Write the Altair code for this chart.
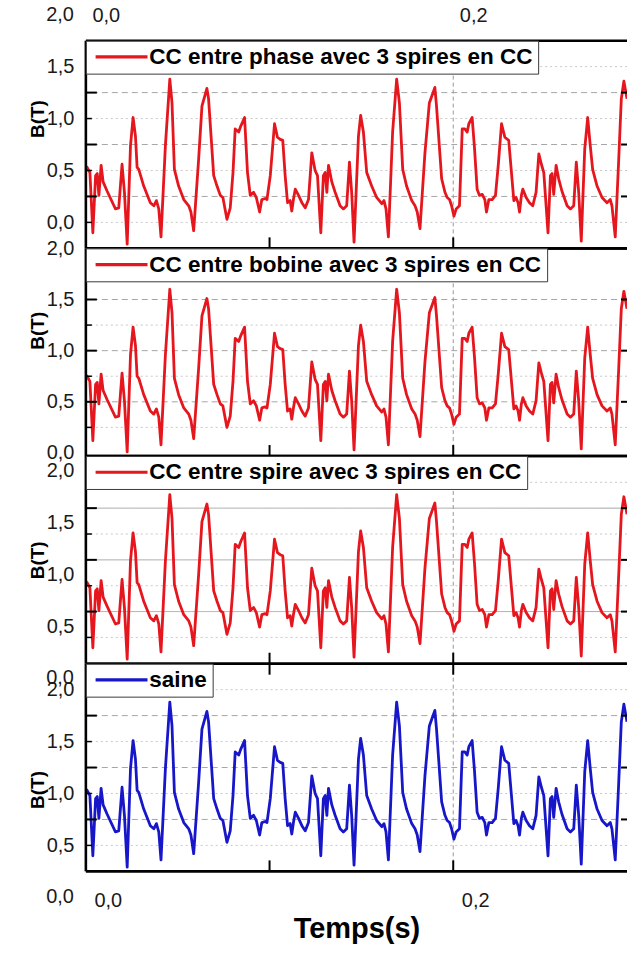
import altair as alt
import pandas as pd

FONT = "Liberation Sans"

# ---------------- data ----------------
time_s = [0.0, 0.0007, 0.0022, 0.0038, 0.0053, 0.0062, 0.0071, 0.0083, 0.0094, 0.0116, 0.0161, 0.0179, 0.0197,
          0.0210, 0.0225, 0.0243, 0.0257, 0.0270, 0.0279, 0.0288, 0.0315, 0.0351, 0.0370, 0.0384, 0.0397, 0.0409,
          0.0433, 0.0457, 0.0469, 0.0482, 0.0505, 0.0533, 0.0560, 0.0572, 0.0587, 0.0614, 0.0632, 0.0659, 0.0668,
          0.0696, 0.0714, 0.0732, 0.0746, 0.0768, 0.0786, 0.0801, 0.0813, 0.0832, 0.0844, 0.0864, 0.0880, 0.0895,
          0.0913, 0.0928, 0.0946, 0.0958, 0.0976, 0.0986, 0.1004, 0.1027, 0.1043, 0.1058, 0.1072, 0.1085, 0.1098,
          0.1112, 0.1121, 0.1130, 0.1140, 0.1158, 0.1176, 0.1194, 0.1212, 0.1230, 0.1248, 0.1261, 0.1279, 0.1293,
          0.1303, 0.1312, 0.1321, 0.1339, 0.1357, 0.1384, 0.1402, 0.1420, 0.1435, 0.1447, 0.1460, 0.1484, 0.1496,
          0.1511, 0.1529, 0.1556, 0.1583, 0.1611, 0.1623, 0.1634, 0.1647, 0.1670, 0.1692, 0.1707, 0.1725, 0.1746,
          0.1774, 0.1792, 0.1804, 0.1819, 0.1846, 0.1870, 0.1900, 0.1909, 0.1937, 0.1955, 0.1967, 0.1980, 0.1991,
          0.2004, 0.2016, 0.2034, 0.2049, 0.2063, 0.2076, 0.2085, 0.2103, 0.2116, 0.2130, 0.2143, 0.2158, 0.2172,
          0.2181, 0.2194, 0.2212, 0.2230, 0.2245, 0.2263, 0.2281, 0.2302, 0.2317, 0.2330, 0.2342, 0.2353, 0.2361,
          0.2371, 0.2379, 0.2397, 0.2415, 0.2433, 0.2451, 0.2466, 0.2480, 0.2493, 0.2516, 0.2529, 0.2538, 0.2547,
          0.2560, 0.2574, 0.2592, 0.2620, 0.2638, 0.2656, 0.2670, 0.2683, 0.2697, 0.2716, 0.2732, 0.2746, 0.2759,
          0.2783, 0.2810, 0.2837, 0.2855, 0.2864, 0.2882, 0.2901, 0.2915, 0.2929, 0.2946]

b_phase = [0.54, 0.53, 0.48, -0.10, 0.45, 0.47, 0.26, 0.55, 0.39, 0.30, 0.13, 0.14, 0.56, 0.29, -0.21, 0.74, 1.01,
           0.83, 0.53, 0.51, 0.35, 0.19, 0.16, 0.21, 0.13, -0.14, 0.74, 1.38, 1.15, 0.51, 0.35, 0.22, 0.16, 0.10,
           -0.08, 0.61, 1.12, 1.29, 1.19, 0.45, 0.35, 0.26, 0.24, 0.03, 0.14, 0.48, 0.90, 0.87, 0.93, 1.01, 0.48,
           0.26, 0.29, 0.24, 0.10, 0.22, 0.23, 0.22, 0.45, 0.95, 0.82, 0.80, 0.79, 0.45, 0.19, 0.21, 0.11, 0.22,
           0.32, 0.26, 0.19, 0.14, 0.22, 0.67, 0.50, 0.45, -0.10, 0.45, 0.48, 0.29, 0.55, 0.39, 0.29, 0.16, 0.13,
           0.16, 0.58, 0.29, -0.19, 0.83, 1.03, 0.87, 0.48, 0.35, 0.24, 0.18, 0.21, 0.13, -0.14, 0.87, 1.38, 1.15,
           0.51, 0.35, 0.21, 0.16, 0.10, -0.06, 0.67, 1.15, 1.30, 1.12, 0.42, 0.29, 0.24, 0.22, 0.16, 0.06, 0.13,
           0.16, 0.90, 0.90, 0.87, 0.95, 1.01, 0.71, 0.32, 0.26, 0.27, 0.22, 0.10, 0.22, 0.22, 0.26, 0.55, 0.95,
           0.82, 0.79, 0.48, 0.21, 0.24, 0.19, 0.10, 0.26, 0.32, 0.24, 0.19, 0.16, 0.29, 0.66, 0.56, 0.48, -0.10,
           0.45, 0.47, 0.27, 0.55, 0.42, 0.30, 0.16, 0.13, 0.16, 0.58, 0.29, -0.18, 0.71, 1.01, 0.74, 0.51, 0.35,
           0.24, 0.19, 0.22, 0.16, -0.14, 0.61, 1.19, 1.36, 1.19]

b_bobine = [0.76, 0.75, 0.70, 0.12, 0.67, 0.69, 0.48, 0.77, 0.61, 0.52, 0.35, 0.36, 0.78, 0.51, 0.01, 0.96, 1.23,
            1.05, 0.75, 0.73, 0.57, 0.41, 0.38, 0.43, 0.35, 0.08, 0.96, 1.60, 1.37, 0.73, 0.57, 0.44, 0.38, 0.32,
            0.14, 0.83, 1.34, 1.51, 1.41, 0.67, 0.57, 0.48, 0.46, 0.25, 0.36, 0.70, 1.12, 1.09, 1.15, 1.23, 0.70,
            0.48, 0.51, 0.46, 0.32, 0.44, 0.45, 0.44, 0.67, 1.17, 1.04, 1.02, 1.01, 0.67, 0.41, 0.43, 0.33, 0.44,
            0.54, 0.48, 0.41, 0.36, 0.44, 0.89, 0.72, 0.67, 0.12, 0.67, 0.70, 0.51, 0.77, 0.61, 0.51, 0.38, 0.35,
            0.38, 0.80, 0.51, 0.03, 1.05, 1.25, 1.09, 0.70, 0.57, 0.46, 0.40, 0.43, 0.35, 0.08, 1.09, 1.60, 1.37,
            0.73, 0.57, 0.43, 0.38, 0.32, 0.16, 0.89, 1.37, 1.52, 1.34, 0.64, 0.51, 0.46, 0.44, 0.38, 0.28, 0.35,
            0.38, 1.12, 1.12, 1.09, 1.17, 1.23, 0.93, 0.54, 0.48, 0.49, 0.44, 0.32, 0.44, 0.44, 0.48, 0.77, 1.17,
            1.04, 1.01, 0.70, 0.43, 0.46, 0.41, 0.32, 0.48, 0.54, 0.46, 0.41, 0.38, 0.51, 0.88, 0.78, 0.70, 0.12,
            0.67, 0.69, 0.49, 0.77, 0.64, 0.52, 0.38, 0.35, 0.38, 0.80, 0.51, 0.04, 0.93, 1.23, 0.96, 0.73, 0.57,
            0.46, 0.41, 0.44, 0.38, 0.08, 0.83, 1.41, 1.58, 1.41]

b_spire = [0.93, 0.92, 0.87, 0.29, 0.84, 0.86, 0.65, 0.94, 0.78, 0.69, 0.52, 0.53, 0.95, 0.68, 0.18, 1.13, 1.40,
           1.22, 0.92, 0.90, 0.74, 0.58, 0.55, 0.60, 0.52, 0.25, 1.13, 1.77, 1.54, 0.90, 0.74, 0.61, 0.55, 0.49,
           0.31, 1.00, 1.51, 1.68, 1.58, 0.84, 0.74, 0.65, 0.63, 0.42, 0.53, 0.87, 1.29, 1.26, 1.32, 1.40, 0.87,
           0.65, 0.68, 0.63, 0.49, 0.61, 0.62, 0.61, 0.84, 1.34, 1.21, 1.19, 1.18, 0.84, 0.58, 0.60, 0.50, 0.61,
           0.71, 0.65, 0.58, 0.53, 0.61, 1.06, 0.89, 0.84, 0.29, 0.84, 0.87, 0.68, 0.94, 0.78, 0.68, 0.55, 0.52,
           0.55, 0.97, 0.68, 0.20, 1.22, 1.42, 1.26, 0.87, 0.74, 0.63, 0.57, 0.60, 0.52, 0.25, 1.26, 1.77, 1.54,
           0.90, 0.74, 0.60, 0.55, 0.49, 0.33, 1.06, 1.54, 1.69, 1.51, 0.81, 0.68, 0.63, 0.61, 0.55, 0.45, 0.52,
           0.55, 1.29, 1.29, 1.26, 1.34, 1.40, 1.10, 0.71, 0.65, 0.66, 0.61, 0.49, 0.61, 0.61, 0.65, 0.94, 1.34,
           1.21, 1.18, 0.87, 0.60, 0.63, 0.58, 0.49, 0.65, 0.71, 0.63, 0.58, 0.55, 0.68, 1.05, 0.95, 0.87, 0.29,
           0.84, 0.86, 0.66, 0.94, 0.81, 0.69, 0.55, 0.52, 0.55, 0.97, 0.68, 0.21, 1.10, 1.40, 1.13, 0.90, 0.74,
           0.63, 0.58, 0.61, 0.55, 0.25, 1.00, 1.58, 1.75, 1.58]

b_saine = [1.04, 1.03, 0.98, 0.40, 0.95, 0.97, 0.76, 1.05, 0.89, 0.80, 0.63, 0.64, 1.06, 0.79, 0.29, 1.24, 1.51,
           1.33, 1.03, 1.01, 0.85, 0.69, 0.66, 0.71, 0.63, 0.36, 1.24, 1.88, 1.65, 1.01, 0.85, 0.72, 0.66, 0.60,
           0.42, 1.11, 1.62, 1.79, 1.69, 0.95, 0.85, 0.76, 0.74, 0.53, 0.64, 0.98, 1.40, 1.37, 1.43, 1.51, 0.98,
           0.76, 0.79, 0.74, 0.60, 0.72, 0.73, 0.72, 0.95, 1.45, 1.32, 1.30, 1.29, 0.95, 0.69, 0.71, 0.61, 0.72,
           0.82, 0.76, 0.69, 0.64, 0.72, 1.17, 1.00, 0.95, 0.40, 0.95, 0.98, 0.79, 1.05, 0.89, 0.79, 0.66, 0.63,
           0.66, 1.08, 0.79, 0.31, 1.33, 1.53, 1.37, 0.98, 0.85, 0.74, 0.68, 0.71, 0.63, 0.36, 1.37, 1.88, 1.65,
           1.01, 0.85, 0.71, 0.66, 0.60, 0.44, 1.17, 1.65, 1.80, 1.62, 0.92, 0.79, 0.74, 0.72, 0.66, 0.56, 0.63,
           0.66, 1.40, 1.40, 1.37, 1.45, 1.51, 1.21, 0.82, 0.76, 0.77, 0.72, 0.60, 0.72, 0.72, 0.76, 1.05, 1.45,
           1.32, 1.29, 0.98, 0.71, 0.74, 0.69, 0.60, 0.76, 0.82, 0.74, 0.69, 0.66, 0.79, 1.16, 1.06, 0.98, 0.40,
           0.95, 0.97, 0.77, 1.05, 0.92, 0.80, 0.66, 0.63, 0.66, 1.08, 0.79, 0.32, 1.21, 1.51, 1.24, 1.01, 0.85,
           0.74, 0.69, 0.72, 0.66, 0.36, 1.11, 1.69, 1.86, 1.69]

series = [b_phase, b_bobine, b_spire, b_saine]
for s in series:
    assert len(s) == len(time_s), (len(s), len(time_s))

legend_labels = ["CC entre phase avec 3 spires en CC",
                 "CC entre bobine avec 3 spires en CC",
                 "CC entre spire avec 3 spires en CC",
                 "saine"]
line_colors = ["#e5161d", "#e5161d", "#e5161d", "#1717c9"]

x_domain = [0.0, 0.2946]
x_label_values = [0.0, 0.2]
x_tick_values = [0.1, 0.2]
x_grid_values = [0.2]

y_domains = [[-0.25, 1.75], [-0.03, 2.0], [0.136, 2.144], [0.25, 2.25]]
y_label_values = [[0.0, 0.5, 1.0, 1.5], [0.0, 0.5, 1.0, 1.5, 2.0], [0.5, 1.0, 1.5, 2.0], [0.5, 1.0, 1.5, 2.0]]
y_extra_labels = [[2.0], [], [0.0], [0.0]]
grid_major = [[0.25, 0.75, 1.25], [0.5, 1.0, 1.5], [0.64, 1.14, 1.64], [0.75, 1.25, 1.75]]
grid_minor = [[0.0, 0.5, 1.0, 1.5], [0.25, 0.75, 1.25], [0.39, 0.89, 1.39, 1.89], [0.5, 1.0, 1.5, 2.0]]
title_y = [78, 82, 104, 126]

W, H = 542, 208
LABEL_EXPR = "replace(format(datum.value, '.1f'), '.', ',')"


def panel(i):
    xs = alt.Scale(domain=x_domain, nice=False, zero=False)
    ys = alt.Scale(domain=y_domains[i], nice=False, zero=False)
    if i == 0:
        xaxis = alt.Axis(orient="top", values=x_label_values, labelExpr=LABEL_EXPR, title=None,
                         ticks=False, tickSize=0, domain=False, grid=False, labelOffset=20,
                         labelPadding=15, labelFlush=False, labelFontSize=20)
    elif i == 3:
        xaxis = alt.Axis(orient="bottom", values=x_label_values, labelExpr=LABEL_EXPR, title="Temps(s)",
                         ticks=False, tickSize=0, domain=False, grid=False, labelOffset=22,
                         labelPadding=19, labelFlush=False, labelFontSize=20,
                         titleFontSize=29, titleFontWeight="bold", titleColor="black",
                         titleBaseline="alphabetic", titleY=66)
    else:
        xaxis = None
    yaxis = alt.Axis(values=y_label_values[i], labelExpr=LABEL_EXPR, title="B(T)", ticks=False, tickSize=0,
                     domain=False, grid=False, labelPadding=12, labelFontSize=20, labelFlush=False,
                     titleFontSize=19, titleFontWeight="bold", titleColor="black", titleAngle=270,
                     titleBaseline="middle", titleX=-48, titleY=title_y[i], titleAlign="center")

    X = lambda f: alt.X(f, type="quantitative", scale=xs, axis=xaxis)
    Y = lambda f: alt.Y(f, type="quantitative", scale=ys, axis=yaxis)

    df = pd.DataFrame({"t": time_s, "B": series[i], "serie": legend_labels[i]})
    gmaj = pd.DataFrame({"B": grid_major[i]})
    gmin = pd.DataFrame({"B": grid_minor[i]})
    gx = pd.DataFrame({"t": x_grid_values})
    tx = pd.DataFrame({"t": x_tick_values})
    extra = pd.DataFrame({"B": y_extra_labels[i],
                          "txt": [f"{v:.1f}".replace(".", ",") for v in y_extra_labels[i]]})
    one = pd.DataFrame({"k": [0]})

    layers = []
    layers.append(alt.Chart(gmin).mark_rule(color="#c8c8c8", strokeWidth=1, strokeDash=[2, 3]).encode(y=Y("B")))
    layers.append(alt.Chart(gmaj).mark_rule(color="#a6a6a6", strokeWidth=1,
                                            strokeDash=[6, 4] if i != 2 else [1, 0]).encode(y=Y("B")))
    layers.append(alt.Chart(gx).mark_rule(color="#9a9a9a", strokeWidth=1, strokeDash=[4, 3]).encode(x=X("t")))
    layers.append(
        alt.Chart(df).mark_line(strokeWidth=2.8, clip=True, strokeJoin="round").encode(
            x=X("t"), y=Y("B"),
            color=alt.Color("serie:N", scale=alt.Scale(domain=[legend_labels[i]], range=[line_colors[i]]),
                            legend=alt.Legend(title=None, orient="top-left", offset=0, padding=5,
                                              fillColor="white", strokeColor="#3a3a3a",
                                              symbolType="M-1,0H7", symbolSize=169, symbolStrokeWidth=3.2,
                                              labelFont=FONT, labelFontSize=22.5, labelFontWeight="bold",
                                              labelColor="black", labelOffset=36, labelLimit=800)))
    )
    # inward ticks
    layers.append(alt.Chart(gmaj).mark_rule(color="black", strokeWidth=2).encode(
        y=Y("B"), x=alt.value(0), x2=alt.value(11)))
    layers.append(alt.Chart(gmin).mark_rule(color="black", strokeWidth=1.5).encode(
        y=Y("B"), x=alt.value(0), x2=alt.value(6)))
    layers.append(alt.Chart(gmaj).mark_rule(color="black", strokeWidth=2).encode(
        y=Y("B"), x=alt.value(W - 6), x2=alt.value(W)))
    layers.append(alt.Chart(tx).mark_rule(color="black", strokeWidth=2).encode(
        x=X("t"), y=alt.value(H - 11), y2=alt.value(H)))
    layers.append(alt.Chart(tx).mark_rule(color="black", strokeWidth=2).encode(
        x=X("t"), y=alt.value(0), y2=alt.value(11)))
    if len(y_extra_labels[i]):
        layers.append(alt.Chart(extra).mark_text(align="right", baseline="middle", font=FONT, fontSize=20,
                                                 color="#1a1a1a").encode(
            y=Y("B"), x=alt.value(-12), text="txt:N"))
    # frame (left, top, bottom)
    layers.append(alt.Chart(one).mark_rule(color="black", strokeWidth=2.6).encode(
        x=alt.value(0), y=alt.value(0), y2=alt.value(H)))
    layers.append(alt.Chart(one).mark_rule(color="black", strokeWidth=2.6).encode(
        x=alt.value(0), x2=alt.value(W), y=alt.value(0)))
    layers.append(alt.Chart(one).mark_rule(color="black", strokeWidth=2.6).encode(
        x=alt.value(0), x2=alt.value(W), y=alt.value(H)))

    return alt.layer(*layers).properties(width=W, height=H)


chart = (
    alt.vconcat(*[panel(i) for i in range(4)], spacing=0, bounds="flush")
    .resolve_scale(color="independent", x="independent", y="independent")
    .properties(padding={"left": 29, "top": 4, "right": 0, "bottom": 0}, background="white")
    .configure_view(stroke=None)
    .configure_axis(labelFont=FONT, titleFont=FONT, labelColor="#1a1a1a")
)

chart.save("out.html", embed_options={"renderer": "svg", "actions": False})
